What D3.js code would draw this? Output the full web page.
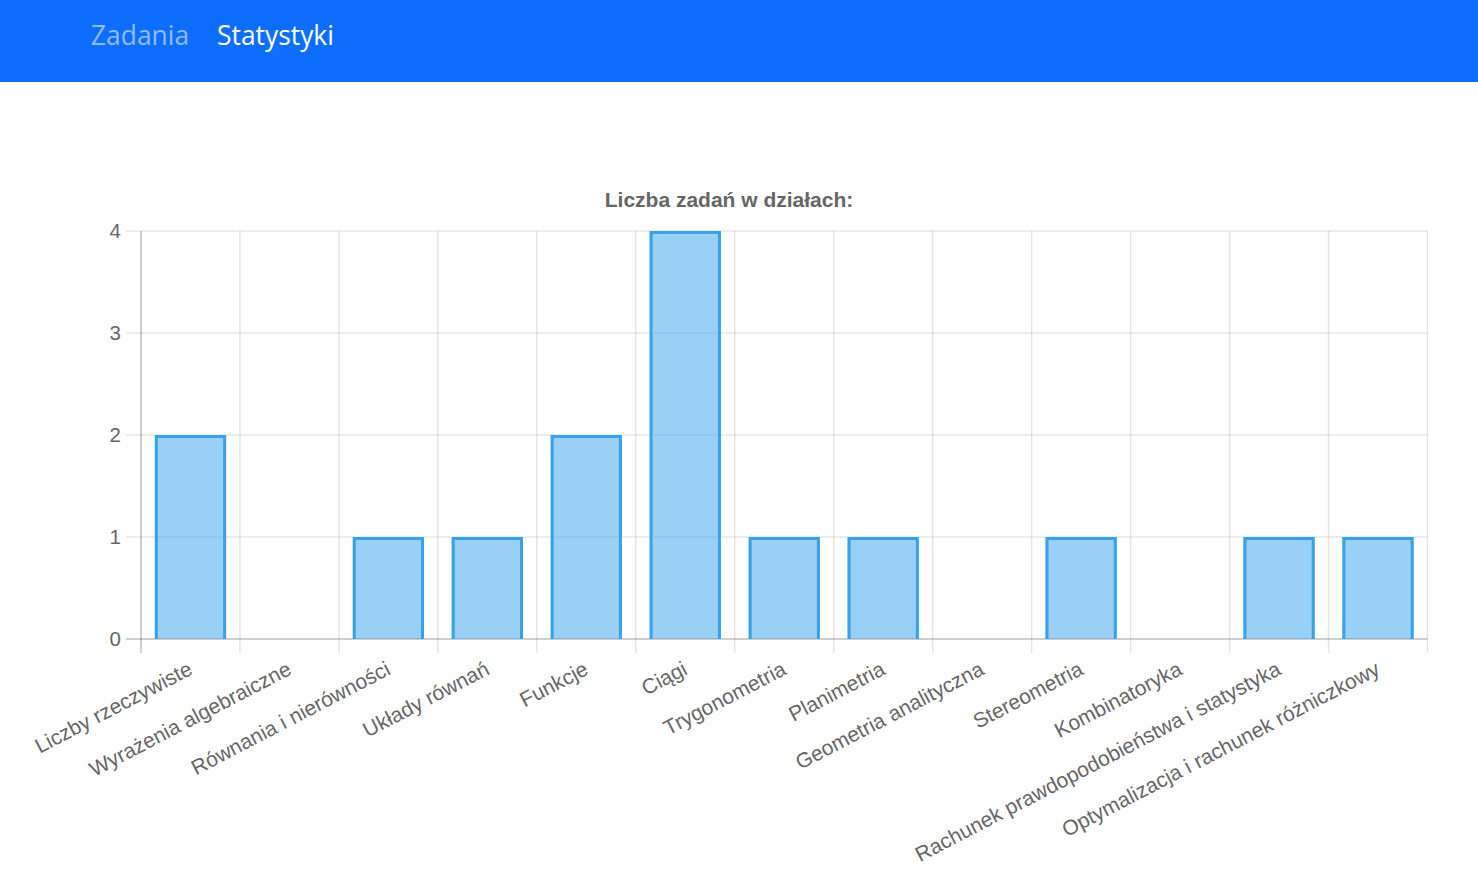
<!DOCTYPE html>
<html>
<head>
<meta charset="utf-8">
<script src="https://cdn.jsdelivr.net/npm/d3@7"></script>
<style>
  html, body { margin: 0; padding: 0; background: #fff; }
  svg { display: block; }
</style>
</head>
<body>
<svg id="chart" width="1478" height="875"></svg>
<script>
const navItems = ["Zadania", "Statystyki"];
const chartTitle = "Liczba zadań w działach:";
const categories = [
  "Liczby rzeczywiste",
  "Wyrażenia algebraiczne",
  "Równania i nierówności",
  "Układy równań",
  "Funkcje",
  "Ciągi",
  "Trygonometria",
  "Planimetria",
  "Geometria analityczna",
  "Stereometria",
  "Kombinatoryka",
  "Rachunek prawdopodobieństwa i statystyka",
  "Optymalizacja i rachunek różniczkowy"
];
const values = [2, 0, 1, 1, 2, 4, 1, 1, 0, 1, 0, 1, 1];
const yTicks = [0, 1, 2, 3, 4];

(function () {
const svg = d3.select("#chart");
const W = 1478;

// Navbar
svg.append("rect").attr("x", 0).attr("y", 0).attr("width", W).attr("height", 82).attr("fill", "#0d6efd");
const navFont = "'Open Sans', 'Noto Sans', sans-serif";
svg.append("text").attr("x", 91).attr("y", 45).text(navItems[0])
  .attr("font-family", navFont).attr("font-size", 26.4).attr("fill", "rgba(255,255,255,0.55)");
svg.append("text").attr("x", 217).attr("y", 45).text(navItems[1])
  .attr("font-family", navFont).attr("font-size", 26.4).attr("fill", "#ffffff");

// Chart
const pL = 141, pR = 1427.5, pT = 231, pB = 639;
const font = "'Liberation Sans', Arial, Helvetica, sans-serif";

const x = d3.scaleBand().domain(categories).range([pL, pR]).paddingInner(0).paddingOuter(0);
const y = d3.scaleLinear().domain([0, 4]).range([pB, pT]);

svg.append("text").attr("x", 729).attr("y", 207).attr("text-anchor", "middle")
  .attr("font-family", font).attr("font-weight", "bold").attr("font-size", 21)
  .attr("fill", "#666").text(chartTitle);

const g = svg.append("g");

// horizontal grid
g.selectAll("line.hgrid").data(yTicks).join("line")
  .attr("x1", pL - 15).attr("x2", pR)
  .attr("y1", d => y(d)).attr("y2", d => y(d))
  .attr("stroke", d => d === 0 ? "rgba(0,0,0,0.25)" : "rgba(0,0,0,0.1)")
  .attr("stroke-width", 1.5);

// vertical grid at band edges
const edges = d3.range(categories.length + 1).map(i => i === categories.length ? pR : x(categories[i]));
g.selectAll("line.vgrid").data(edges).join("line")
  .attr("x1", d => d).attr("x2", d => d)
  .attr("y1", pT).attr("y2", pB + 14)
  .attr("stroke", (d, i) => i === 0 ? "rgba(0,0,0,0.25)" : "rgba(0,0,0,0.1)")
  .attr("stroke-width", 1.5);

// y tick labels
g.selectAll("text.ytick").data(yTicks).join("text")
  .attr("x", 121).attr("y", d => y(d)).attr("dy", "0.35em")
  .attr("text-anchor", "end").attr("font-family", font).attr("font-size", 20.5)
  .attr("fill", "#666").text(d => d);

// bars
const bw = x.bandwidth() * 0.72;
const bars = g.selectAll("g.bar").data(categories.map((c, i) => ({c, v: values[i]})).filter(d => d.v > 0)).join("g");
bars.append("rect")
  .attr("x", d => x(d.c) + (x.bandwidth() - bw) / 2)
  .attr("y", d => y(d.v))
  .attr("width", bw)
  .attr("height", d => y(0) - y(d.v))
  .attr("fill", "rgba(54,162,235,0.5)");
const bwid = 3;
bars.append("path")
  .attr("d", d => {
    const x0 = x(d.c) + (x.bandwidth() - bw) / 2 + bwid / 2;
    const x1 = x(d.c) + (x.bandwidth() + bw) / 2 - bwid / 2;
    const yt = y(d.v) + bwid / 2;
    const yb = y(0);
    return `M${x0},${yb}L${x0},${yt}L${x1},${yt}L${x1},${yb}`;
  })
  .attr("fill", "none").attr("stroke", "rgb(54,162,235)").attr("stroke-width", bwid);

// x tick labels
g.selectAll("text.xtick").data(categories).join("text")
  .attr("transform", d => `translate(${x(d) + x.bandwidth() / 2},667) rotate(-27.5)`)
  .attr("text-anchor", "end").attr("dy", "0.35em")
  .attr("font-family", font).attr("font-size", 21)
  .attr("fill", "#666").text(d => d);
})();
</script>
</body>
</html>
